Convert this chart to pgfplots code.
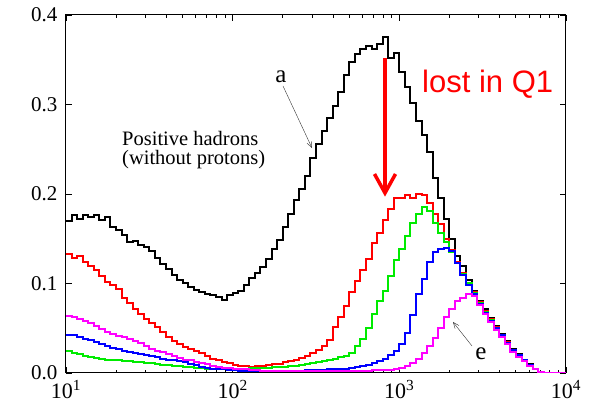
\documentclass[border=0pt]{standalone}
\usepackage{pgfplots}
\pgfplotsset{compat=1.18}
\usepackage{pgfplotstable}
\usepackage{fontspec}
\setmainfont{Liberation Serif}
\newfontfamily\sansf{Liberation Sans}
\usetikzlibrary{arrows.meta}

\pgfplotstableread{
L b r g u m
1.0000 0.170 0.133 0.025 0.043 0.064
1.0333 0.176 0.128 0.022 0.042 0.063
1.0667 0.172 0.131 0.021 0.040 0.060
1.1000 0.177 0.124 0.019 0.038 0.058
1.1333 0.174 0.119 0.018 0.037 0.056
1.1667 0.176 0.115 0.017 0.035 0.053
1.2000 0.171 0.108 0.016 0.032 0.049
1.2333 0.174 0.102 0.015 0.030 0.046
1.2667 0.163 0.098 0.015 0.028 0.044
1.3000 0.160 0.094 0.014 0.027 0.041
1.3333 0.154 0.084 0.013 0.025 0.040
1.3667 0.146 0.078 0.013 0.023 0.038
1.4000 0.147 0.072 0.012 0.022 0.036
1.4333 0.143 0.066 0.012 0.021 0.034
1.4667 0.141 0.060 0.011 0.020 0.030
1.5000 0.136 0.056 0.011 0.019 0.027
1.5333 0.128 0.051 0.010 0.018 0.025
1.5667 0.122 0.046 0.009 0.016 0.023
1.6000 0.116 0.040 0.009 0.015 0.021
1.6333 0.110 0.036 0.008 0.014 0.019
1.6667 0.104 0.032 0.008 0.013 0.017
1.7000 0.100 0.029 0.007 0.012 0.015
1.7333 0.096 0.027 0.007 0.010 0.014
1.7667 0.093 0.025 0.006 0.009 0.012
1.8000 0.091 0.022 0.006 0.007 0.011
1.8333 0.088 0.019 0.005 0.006 0.010
1.8667 0.087 0.016 0.005 0.005 0.008
1.9000 0.085 0.014 0.005 0.004 0.007
1.9333 0.082 0.012 0.004 0.004 0.006
1.9667 0.087 0.011 0.004 0.003 0.006
2.0000 0.089 0.009 0.005 0.003 0.005
2.0333 0.092 0.008 0.005 0.002 0.004
2.0667 0.098 0.008 0.005 0.002 0.004
2.1000 0.106 0.007 0.006 0.002 0.003
2.1333 0.112 0.008 0.006 0.002 0.003
2.1667 0.118 0.008 0.006 0.002 0.002
2.2000 0.127 0.009 0.006 0.002 0.002
2.2333 0.138 0.010 0.007 0.002 0.002
2.2667 0.149 0.010 0.007 0.002 0.002
2.3000 0.163 0.012 0.007 0.002 0.002
2.3333 0.178 0.013 0.008 0.002 0.002
2.3667 0.193 0.015 0.008 0.002 0.002
2.4000 0.206 0.017 0.009 0.002 0.002
2.4333 0.220 0.019 0.010 0.003 0.002
2.4667 0.240 0.022 0.011 0.003 0.002
2.5000 0.256 0.026 0.012 0.003 0.002
2.5333 0.270 0.030 0.013 0.003 0.002
2.5667 0.285 0.037 0.015 0.004 0.002
2.6000 0.298 0.051 0.016 0.004 0.002
2.6333 0.314 0.063 0.018 0.005 0.002
2.6667 0.333 0.075 0.019 0.005 0.002
2.7000 0.347 0.090 0.022 0.006 0.002
2.7333 0.356 0.103 0.030 0.007 0.002
2.7667 0.362 0.115 0.038 0.008 0.002
2.8000 0.365 0.127 0.050 0.009 0.002
2.8333 0.362 0.145 0.066 0.011 0.003
2.8667 0.368 0.156 0.080 0.013 0.003
2.9000 0.375 0.171 0.092 0.016 0.003
2.9333 0.352 0.183 0.108 0.020 0.003
2.9667 0.357 0.195 0.126 0.025 0.004
3.0000 0.336 0.196 0.138 0.032 0.006
3.0333 0.320 0.199 0.153 0.045 0.008
3.0667 0.302 0.196 0.168 0.065 0.011
3.1000 0.282 0.200 0.178 0.088 0.016
3.1333 0.266 0.199 0.186 0.105 0.022
3.1667 0.247 0.190 0.181 0.124 0.030
3.2000 0.218 0.178 0.168 0.135 0.039
3.2333 0.196 0.166 0.156 0.139 0.050
3.2667 0.172 0.150 0.146 0.140 0.063
3.3000 0.150 0.137 0.135 0.136 0.072
3.3333 0.131 0.124 0.123 0.123 0.080
3.3667 0.119 0.112 0.111 0.110 0.084
3.4000 0.104 0.101 0.100 0.098 0.088
3.4333 0.092 0.090 0.089 0.088 0.086
3.4667 0.081 0.079 0.078 0.077 0.076
3.5000 0.071 0.069 0.068 0.067 0.066
3.5333 0.062 0.060 0.059 0.058 0.057
3.5667 0.053 0.051 0.050 0.050 0.048
3.6000 0.044 0.043 0.042 0.042 0.040
3.6333 0.036 0.035 0.034 0.034 0.032
3.6667 0.027 0.026 0.026 0.026 0.024
3.7000 0.021 0.020 0.020 0.020 0.018
3.7333 0.015 0.014 0.014 0.014 0.013
3.7667 0.010 0.009 0.009 0.009 0.008
3.8000 0.005 0.004 0.004 0.004 0.004
3.8333 0.001 0.001 0.001 0.001 0.001
3.8667 0 0 0 0 0
3.9000 0 0 0 0 0
3.9333 0 0 0 0 0
3.9667 0 0 0 0 0
4.0000 0 0 0 0 0
}\data

\definecolor{cgreen}{RGB}{0,235,0}
\definecolor{cred}{RGB}{255,0,0}
\definecolor{cblue}{RGB}{0,0,255}
\definecolor{cmag}{RGB}{255,0,255}

\begin{document}
\begin{tikzpicture}[x=1pt,y=1pt]
\begin{axis}[
  at={(0,0)}, anchor=south west,
  scale only axis, width=500pt, height=358pt,
  xmin=1, xmax=4, ymin=0, ymax=0.4,
  xtick={1,2,3,4},
  xticklabels={10\textsuperscript{1},10\textsuperscript{2},10\textsuperscript{3},10\textsuperscript{4}},
  minor xtick={1.301,1.477,1.602,1.699,1.778,1.845,1.903,1.954,
               2.301,2.477,2.602,2.699,2.778,2.845,2.903,2.954,
               3.301,3.477,3.602,3.699,3.778,3.845,3.903,3.954},
  ytick={0,0.1,0.2,0.3,0.4},
  yticklabel style={/pgf/number format/fixed, /pgf/number format/precision=1,
    /pgf/number format/fixed zerofill, /pgf/number format/assume math mode=true,
    font=\fontsize{21}{24}\selectfont, xshift=-5pt},
  xticklabel style={font=\fontsize{22}{26}\selectfont, yshift=-4pt},
  tick align=inside,
  major tick length=6pt, minor tick length=3pt,
  tick style={black, line width=0.8pt},
  axis line style={line width=1pt},
]
\addplot[black, line width=2pt, const plot mark left] table[x=L,y=b]{\data};
\addplot[cred, line width=2pt, const plot mark left] table[x=L,y=r]{\data};
\addplot[cgreen, line width=2pt, const plot mark left] table[x=L,y=g]{\data};
\addplot[cblue, line width=2pt, const plot mark left] table[x=L,y=u]{\data};
\addplot[cmag, line width=2pt, const plot mark left] table[x=L,y=m]{\data};
\end{axis}
% annotations (pt relative to axis lower-left)
\node[font=\fontsize{25}{28}\selectfont] at (215,296) {a};
\draw[-{Straight Barb[length=6pt,width=5pt]}, line width=0.4pt, black!80] (217,287) -- (246,225);
\node[anchor=north west, inner sep=0pt, align=left, font=\fontsize{20.5}{19}\selectfont] at (56,242) {Positive hadrons\\(without protons)};
\node[anchor=base west, inner sep=0pt, cred, font=\sansf\fontsize{31}{34}\selectfont] at (356,280) {lost in Q1};
\draw[cred, line width=3.5pt] (319,315) -- (319,182);
\draw[cred, line width=3.5pt] (308.5,199) -- (319,180) -- (329.5,199);
\node[font=\fontsize{25}{28}\selectfont] at (415,19) {e};
\draw[-{Straight Barb[length=6pt,width=5pt]}, line width=0.4pt, black!80] (406,27) -- (387,51);
\pgfresetboundingbox
\path (-66,-36) rectangle (524,373);
\end{tikzpicture}
\end{document}
